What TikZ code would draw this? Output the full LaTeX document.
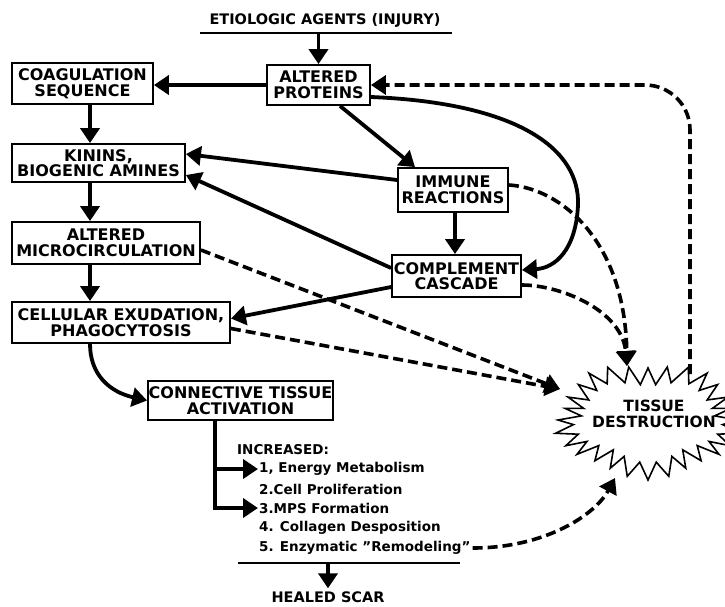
\documentclass[tikz,border=0pt]{standalone}
\usepackage{fontspec}
\setmainfont{DejaVu Sans}
\usetikzlibrary{arrows.meta,calc}
\begin{document}
\begin{tikzpicture}[x=1pt,y=-1pt,
  box/.style={draw,line width=1.8pt,inner sep=0pt,align=center,font=\bfseries\fontsize{16}{15.5}\selectfont},
  arr/.style={line width=3.8pt,-{Triangle[width=19pt,length=15pt]}},
  darr/.style={line width=3.6pt,dash pattern=on 10pt off 5pt,-{Triangle[width=19pt,length=15pt]}},
  lab/.style={inner sep=0pt,font=\bfseries\fontsize{14.5}{14.5}\selectfont},
  item/.style={anchor=west,inner sep=0pt,font=\bfseries\fontsize{13.5}{13.5}\selectfont}]
\useasboundingbox (0,0) rectangle (725,606);
% top
\node[lab] (etio) at (325,20) {ETIOLOGIC AGENTS (INJURY)};
\coordinate (barL) at (200,33); \coordinate (barR) at (452,33);
\draw[line width=2.5pt] (barL) -- (barR);
% boxes
\node[box,minimum width=103pt,minimum height=40pt] (AP) at (318.5,85) {ALTERED\\PROTEINS};
\node[box,minimum width=141pt,minimum height=41pt] (COAG) at (82.5,83.5) {COAGULATION\\SEQUENCE};
\node[box,minimum width=173pt,minimum height=38pt] (KIN) at (98.5,163) {KININS,\\BIOGENIC AMINES};
\node[box,minimum width=188pt,minimum height=42pt] (MIC) at (106,243) {ALTERED\\MICROCIRCULATION};
\node[box,minimum width=218pt,minimum height=41pt] (CELL) at (121,322.5) {CELLULAR EXUDATION,\\PHAGOCYTOSIS};
\node[box,minimum width=110pt,minimum height=44pt] (IMM) at (453,190) {IMMUNE\\REACTIONS};
\node[box,minimum width=129pt,minimum height=42pt] (COMP) at (456.5,276) {COMPLEMENT\\CASCADE};
\node[box,minimum width=185pt,minimum height=39pt] (CTA) at (240.5,400.5) {CONNECTIVE TISSUE\\ACTIVATION};
% tissue destruction
\draw[line width=1.6pt,line join=miter] plot[samples=57,domain=0:360,variable=\t]
  ({648+(90-19*mod(round(\t/6.428571),2)+4*sin(5*\t)+2*sin(11*\t))*cos(\t)},{420+(56-17*mod(round(\t/6.428571),2)+4*sin(5*\t))*sin(\t)}) -- cycle;
\node[inner sep=0pt,align=center,font=\bfseries\fontsize{15.5}{15.5}\selectfont] (TD) at (654,414) {TISSUE\\DESTRUCTION};
\coordinate (tdTop) at (627,366);
\coordinate (tdLeft) at (560,389);
\coordinate (tdBot) at (615,478);
\coordinate (tdTR) at (690,374);
% list
\node[item] (inc) at (237,450) {INCREASED:};
\node[item] (i1) at (259,469) {1, Energy Metabolism};
\node[item] (i2) at (259,489) {2.Cell Proliferation};
\node[item] (i3) at (259,508) {3.MPS Formation};
\node[item] (i4) at (259,528) {4. Collagen Desposition};
\node[item] (i5) at (259,548) {5. Enzymatic \char"0022Remodeling\char"0022};
\coordinate (bar2L) at (238,563); \coordinate (bar2R) at (460,563);
\draw[line width=2.5pt] (bar2L) -- (bar2R);
\node[lab] (scar) at (328,597) {HEALED SCAR};
% solid arrows
\draw[arr] (AP.north |- barL) -- (AP.north);
\draw[arr] (AP.west) -- (AP.west -| COAG.east);
\draw[arr] ([xshift=7.5pt]COAG.south) -- ([xshift=7.5pt]COAG.south |- KIN.north);
\draw[arr] ([xshift=-8.5pt]KIN.south) -- ([xshift=-8.5pt]KIN.south |- MIC.north);
\draw[arr] ([xshift=-16pt]MIC.south) -- ([xshift=-16pt]MIC.south |- CELL.north);
\draw[arr] ([xshift=21.5pt]AP.south) -- ([xshift=-38pt]IMM.north);
\draw[arr] ([yshift=10pt]IMM.west) -- ([yshift=9pt]KIN.east);
\draw[arr] ([yshift=8pt]COMP.west) -- ([yshift=-12pt]KIN.east);
\draw[arr] ([yshift=-11pt]COMP.west) -- ([yshift=4pt]CELL.east);
\draw[arr] ([xshift=2pt]IMM.south) -- ([xshift=-1.5pt]COMP.north);
\draw[arr] ([yshift=-12pt]AP.east) .. controls (520,103) and (580,150) .. (578,205)
  .. controls (576,250) and (555,268) .. ([yshift=6pt]COMP.east);
\draw[arr] ([xshift=-31pt]CELL.south) .. controls (90,375) and (110,392) .. (CTA.west);
\coordinate (cb) at ([xshift=-25.5pt]CTA.south);
\draw[arr] (cb) |- ([xshift=-1pt]i1.west);
\draw[arr] (cb) |- ([xshift=-1pt]i3.west);
\draw[arr] (scar.north |- bar2L) -- ([yshift=3pt]scar.north);
% dashed arrows
\draw[darr,rounded corners=45pt] (tdTR) |- (AP.east);
\draw[darr] ([yshift=5pt]IMM.east) .. controls (560,188) and (625,240) .. (tdTop);
\draw[darr] ([yshift=-9pt]COMP.east) .. controls (560,285) and (622,310) .. (tdTop);
\draw[darr] ([yshift=-7pt]MIC.east) -- (tdLeft);
\draw[darr] ([yshift=-6pt]CELL.east) -- (tdLeft);
\draw[darr] ([xshift=2pt]i5.east) .. controls (545,548) and (595,515) .. (tdBot);
\end{tikzpicture}
\end{document}
